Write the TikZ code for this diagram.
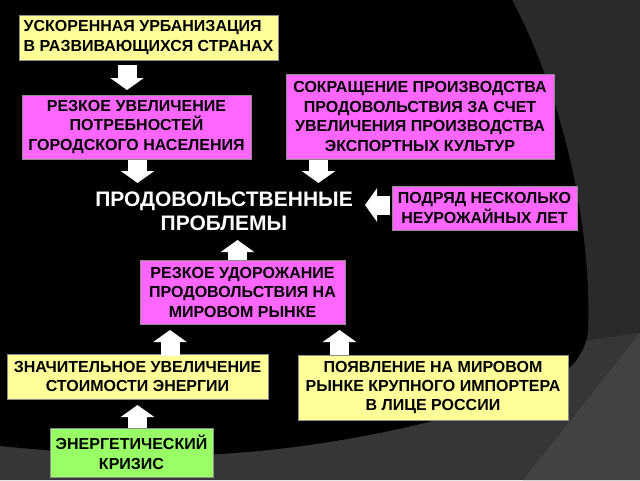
\documentclass[tikz,border=0pt]{standalone}
\usepackage{fontspec}
\setmainfont{Liberation Sans}
\usetikzlibrary{arrows.meta}
\definecolor{pinkbox}{HTML}{FF66FF}
\definecolor{yellowbox}{HTML}{FFFF99}
\definecolor{greenbox}{HTML}{99FF66}
\definecolor{boxline}{HTML}{8C8C8C}
\definecolor{bgdark}{HTML}{2A2A2A}
\definecolor{bgmid}{HTML}{363636}
\definecolor{bglight}{HTML}{424242}
\begin{document}
\begin{tikzpicture}[x=1pt,y=-1pt,
  box/.style={draw=boxline, line width=0.6pt, inner sep=0pt, align=center,
    font=\fontsize{16}{19.5}\selectfont\bfseries, text=black},
  blk/.style={line width=19pt, white, -{Triangle[width=33pt,length=12pt]}},
  title/.style={align=center, inner sep=0pt, text=white,
    font=\fontsize{21}{24}\selectfont\bfseries}
]
% background
\useasboundingbox (0,0) rectangle (640,480);
\fill[bgdark] (0,0) rectangle (640,480);
\fill[bgmid] (0,420) -- (590,340) -- (640,333) -- (640,480) -- (0,480) -- cycle;
\fill[bglight] (640,333) -- (523,480) -- (640,480) -- cycle;
\fill[black] (0,0) -- (512,0) .. controls (560,90) and (592,220) .. (588,330)
  .. controls (584,380) and (520,400) .. (440,419)
  .. controls (360,440) and (260,455) .. (180,455)
  .. controls (100,455) and (40,450) .. (0,446) -- cycle;

% boxes
\node[box, fill=yellowbox, minimum width=259pt, minimum height=45pt, align=left] (urb) at (148.5,37.5)
  {УСКОРЕННАЯ УРБАНИЗАЦИЯ\\В РАЗВИВАЮЩИХСЯ СТРАНАХ};
\node[box, fill=pinkbox, minimum width=229pt, minimum height=64pt] (potr) at (136.5,127)
  {РЕЗКОЕ УВЕЛИЧЕНИЕ\\ПОТРЕБНОСТЕЙ\\ГОРОДСКОГО НАСЕЛЕНИЯ};
\node[box, fill=pinkbox, minimum width=268pt, minimum height=85pt] (sokr) at (420,116.5)
  {СОКРАЩЕНИЕ ПРОИЗВОДСТВА\\ПРОДОВОЛЬСТВИЯ ЗА СЧЕТ\\УВЕЛИЧЕНИЯ ПРОИЗВОДСТВА\\ЭКСПОРТНЫХ КУЛЬТУР};
\node[box, fill=pinkbox, minimum width=185pt, minimum height=44pt] (podr) at (484.5,208)
  {ПОДРЯД НЕСКОЛЬКО\\НЕУРОЖАЙНЫХ ЛЕТ};
\node[title] (prob) at (224,211) {ПРОДОВОЛЬСТВЕННЫЕ\\ПРОБЛЕМЫ};
\node[box, fill=pinkbox, minimum width=205pt, minimum height=64pt] (udor) at (242.5,292)
  {РЕЗКОЕ УДОРОЖАНИЕ\\ПРОДОВОЛЬСТВИЯ НА\\МИРОВОМ РЫНКЕ};
\node[box, fill=yellowbox, minimum width=261pt, minimum height=45pt] (energ) at (137.5,376.5)
  {ЗНАЧИТЕЛЬНОЕ УВЕЛИЧЕНИЕ\\СТОИМОСТИ ЭНЕРГИИ};
\node[box, fill=yellowbox, minimum width=270pt, minimum height=65pt] (ross) at (433,387.5)
  {ПОЯВЛЕНИЕ НА МИРОВОМ\\РЫНКЕ КРУПНОГО ИМПОРТЕРА\\В ЛИЦЕ РОССИИ};
\node[box, fill=greenbox, minimum width=163pt, minimum height=49pt] (kriz) at (131.5,452.5)
  {ЭНЕРГЕТИЧЕСКИЙ\\КРИЗИС};

% arrow end points
\coordinate (a1s) at (127,65);   \coordinate (a1e) at (127,90);
\coordinate (a2s) at (137.5,160); \coordinate (a2e) at (137.5,183);
\coordinate (a3s) at (318.5,160); \coordinate (a3e) at (318.5,183);
\coordinate (a4s) at (390,205);  \coordinate (a4e) at (365,205);
\coordinate (a5s) at (237.5,260); \coordinate (a5e) at (237.5,240);
\coordinate (a6s) at (170,356);  \coordinate (a6e) at (170,330);
\coordinate (a7s) at (339.5,355); \coordinate (a7e) at (339.5,330);
\coordinate (a8s) at (137.5,428); \coordinate (a8e) at (137.5,405);

\draw[blk] (a1s) -- (a1e);
\draw[blk] (a2s) -- (a2e);
\draw[blk] (a3s) -- (a3e);
\draw[blk] (a4s) -- (a4e);
\draw[blk] (a5s) -- (a5e);
\draw[blk] (a6s) -- (a6e);
\draw[blk] (a7s) -- (a7e);
\draw[blk] (a8s) -- (a8e);
\end{tikzpicture}
\end{document}
